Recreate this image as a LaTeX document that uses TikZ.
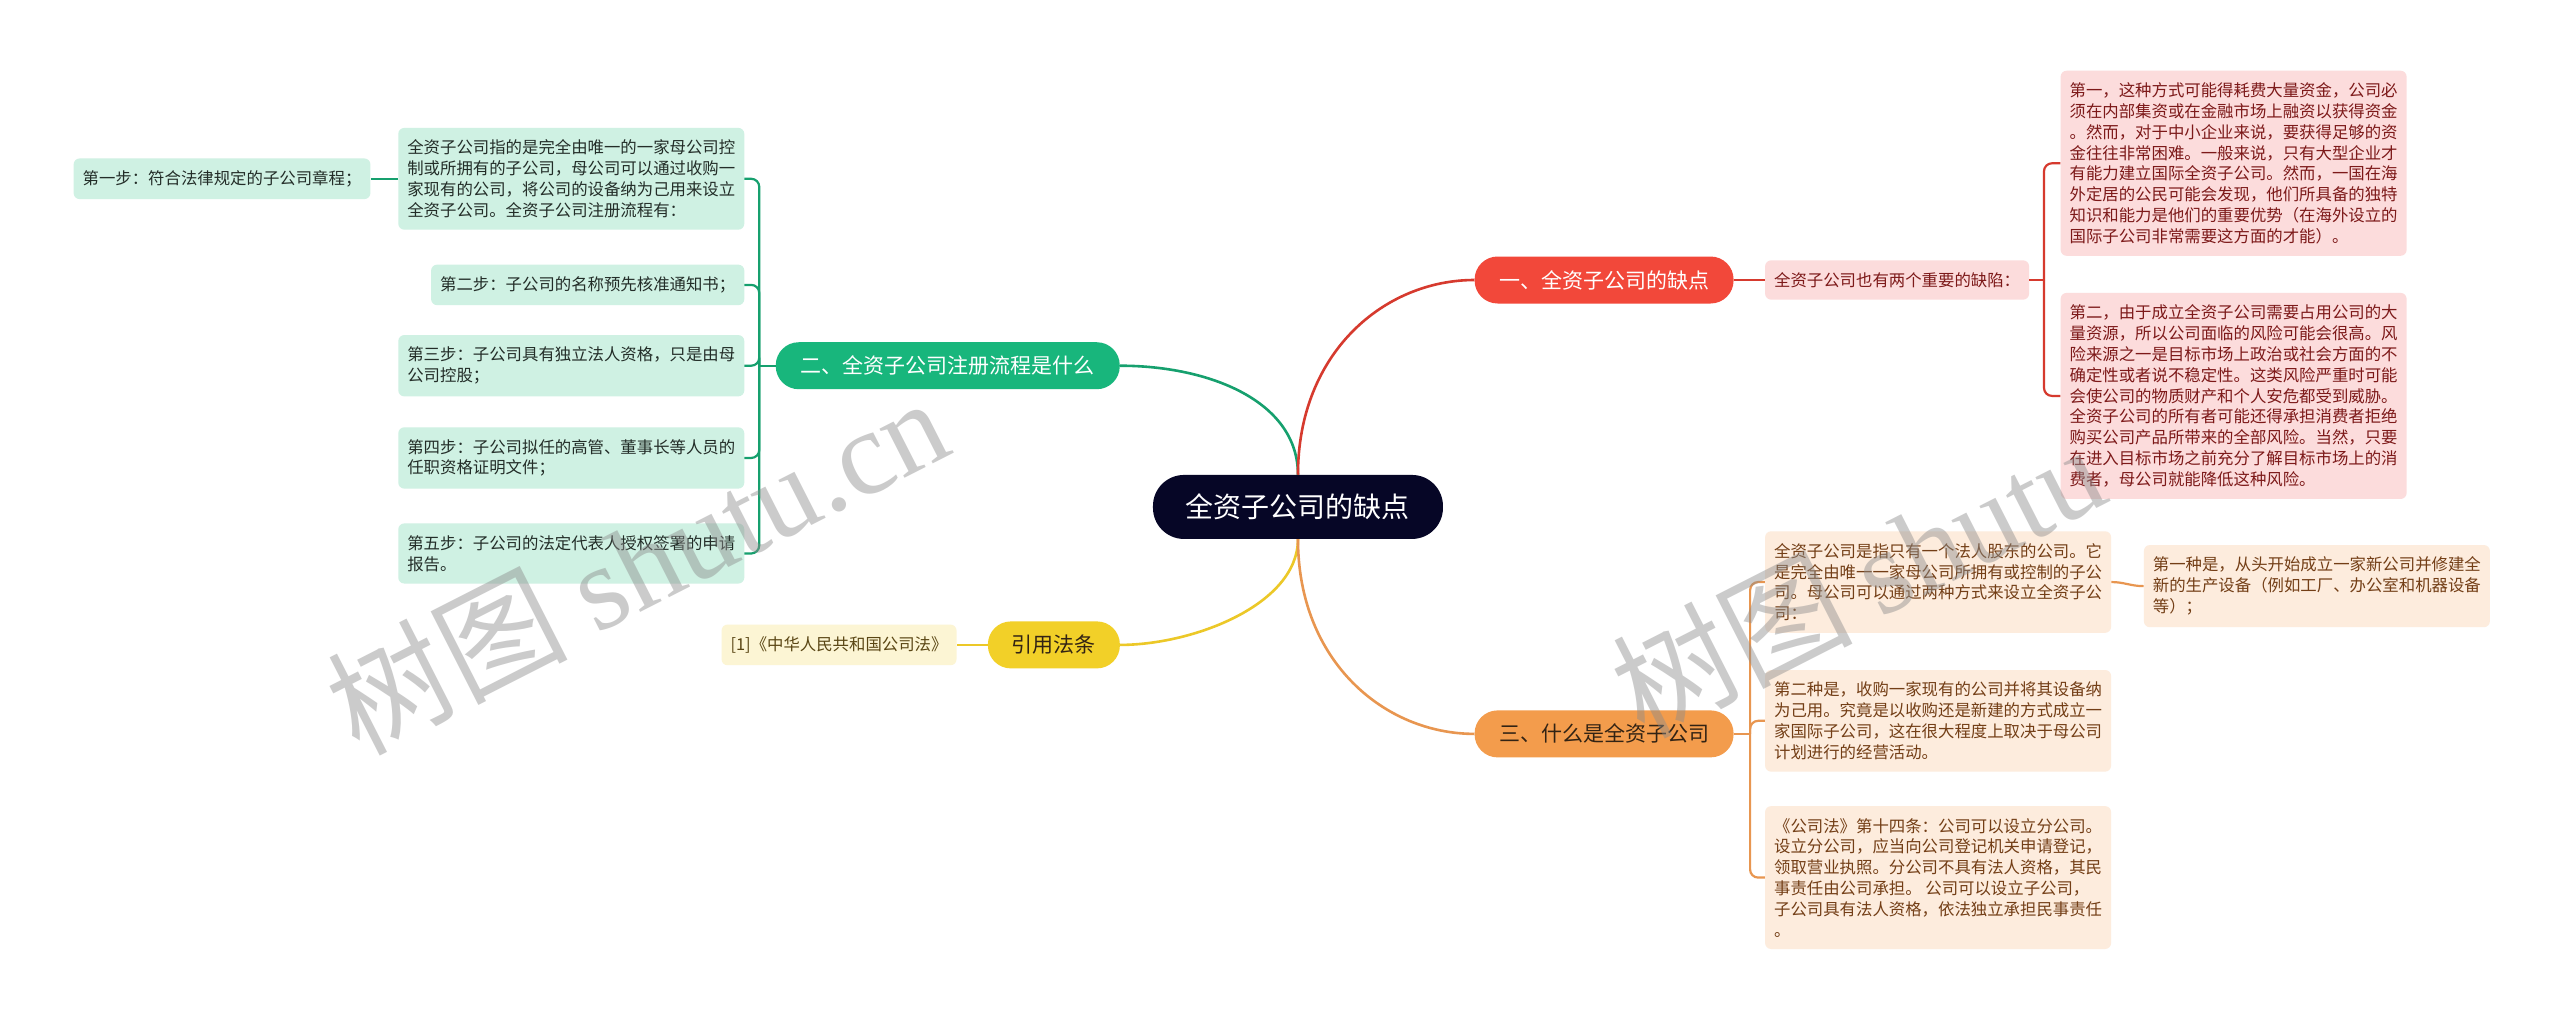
\documentclass[tikz,border=0pt]{standalone}
\usepackage{fontspec}
\setmainfont{Noto Sans CJK SC}
\newfontfamily\wmlatin{Liberation Serif}
\definecolor{cnavy}{RGB}{6,6,38}
\definecolor{cred}{RGB}{242,72,58}
\definecolor{credline}{RGB}{214,58,46}
\definecolor{credleaf}{RGB}{252,220,220}
\definecolor{credtext}{RGB}{125,25,25}
\definecolor{cgreen}{RGB}{24,182,124}
\definecolor{cgreenline}{RGB}{22,160,110}
\definecolor{cgreenleaf}{RGB}{207,241,227}
\definecolor{cgreentext}{RGB}{35,45,40}
\definecolor{cyellow}{RGB}{242,208,40}
\definecolor{cyellowline}{RGB}{236,200,40}
\definecolor{cyellowleaf}{RGB}{252,245,212}
\definecolor{cyellowtext}{RGB}{90,70,20}
\definecolor{corange}{RGB}{243,156,76}
\definecolor{corangeline}{RGB}{232,150,80}
\definecolor{corangeleaf}{RGB}{253,236,221}
\definecolor{corangetext}{RGB}{115,62,22}
\definecolor{cbranchtext}{RGB}{50,35,20}
\tikzset{
  leafbox/.style={rounded corners=6pt, inner xsep=9pt, inner ysep=12pt, align=left,
    font=\fontsize{16.4}{20.8}\selectfont},
  branchbox/.style={rounded corners=23pt, minimum height=47pt, inner xsep=10pt,
    font=\fontsize{21}{25}\selectfont},
  centerbox/.style={rounded corners=31pt, minimum height=64pt, minimum width=290pt,
    fill=cnavy, text=white, font=\fontsize{28}{32}\selectfont},
  mainline/.style={line width=2.6pt},
  subline/.style={line width=2.2pt, rounded corners=8pt},
  wm/.style={text=black!45, opacity=0.45, font=\fontsize{120}{130}\selectfont, inner sep=0pt}
}
\begin{document}
\begin{tikzpicture}[x=1.6327pt,y=-1.6327pt]
\fill[white] (0,0) rectangle (1568,626);
\useasboundingbox (0,0) rectangle (1568,626);

% center
\node[centerbox] (c) at (795,310.5) {全资子公司的缺点};

% branch 1 (red)
\node[branchbox, fill=cred, text=white, minimum width=259pt] (b1) at (982.5,171.5) {一、全资子公司的缺点};
\node[leafbox, fill=credleaf, text=credtext, anchor=west] (b1c) at (1081,171.5) {全资子公司也有两个重要的缺陷：};
\node[leafbox, fill=credleaf, text=credtext, anchor=west] (r1) at (1262,100) {第一，这种方式可能得耗费大量资金，公司必\\须在内部集资或在金融市场上融资以获得资金\\。然而，对于中小企业来说，要获得足够的资\\金往往非常困难。一般来说，只有大型企业才\\有能力建立国际全资子公司。然而，一国在海\\外定居的公民可能会发现，他们所具备的独特\\知识和能力是他们的重要优势（在海外设立的\\国际子公司非常需要这方面的才能）。};
\node[leafbox, fill=credleaf, text=credtext, anchor=west] (r2) at (1262,242.5) {第二，由于成立全资子公司需要占用公司的大\\量资源，所以公司面临的风险可能会很高。风\\险来源之一是目标市场上政治或社会方面的不\\确定性或者说不稳定性。这类风险严重时可能\\会使公司的物质财产和个人安危都受到威胁。\\全资子公司的所有者可能还得承担消费者拒绝\\购买公司产品所带来的全部风险。当然，只要\\在进入目标市场之前充分了解目标市场上的消\\费者，母公司就能降低这种风险。};

% branch 2 (green)
\node[branchbox, fill=cgreen, text=white, minimum width=344pt] (b2) at (580.5,224) {二、全资子公司注册流程是什么};
\node[leafbox, fill=cgreenleaf, text=cgreentext, anchor=east] (g1) at (456,109.5) {全资子公司指的是完全由唯一的一家母公司控\\制或所拥有的子公司，母公司可以通过收购一\\家现有的公司，将公司的设备纳为己用来设立\\全资子公司。全资子公司注册流程有：};
\node[leafbox, fill=cgreenleaf, text=cgreentext, anchor=east] (g0) at (227,109.5) {第一步：符合法律规定的子公司章程；};
\node[leafbox, fill=cgreenleaf, text=cgreentext, anchor=east] (g2) at (456,174.5) {第二步：子公司的名称预先核准通知书；};
\node[leafbox, fill=cgreenleaf, text=cgreentext, anchor=east] (g3) at (456,224) {第三步：子公司具有独立法人资格，只是由母\\公司控股；};
\node[leafbox, fill=cgreenleaf, text=cgreentext, anchor=east] (g4) at (456,280.5) {第四步：子公司拟任的高管、董事长等人员的\\任职资格证明文件；};
\node[leafbox, fill=cgreenleaf, text=cgreentext, anchor=east] (g5) at (456,339) {第五步：子公司的法定代表人授权签署的申请\\报告。};

% branch 3 (yellow)
\node[branchbox, fill=cyellow, text=cbranchtext, minimum width=132pt] (b3) at (645.5,395) {引用法条};
\node[leafbox, fill=cyellowleaf, text=cyellowtext, anchor=east] (y1) at (586,395) {[1]《中华人民共和国公司法》};

% branch 4 (orange)
\node[branchbox, fill=corange, text=cbranchtext, minimum width=259pt] (b4) at (982.5,449.5) {三、什么是全资子公司};
\node[leafbox, fill=corangeleaf, text=corangetext, anchor=west] (o1) at (1081,356.5) {全资子公司是指只有一个法人股东的公司。它\\是完全由唯一一家母公司所拥有或控制的子公\\司。母公司可以通过两种方式来设立全资子公\\司：};
\node[leafbox, fill=corangeleaf, text=corangetext, anchor=west] (o1a) at (1313,359) {第一种是，从头开始成立一家新公司并修建全\\新的生产设备（例如工厂、办公室和机器设备\\等）；};
\node[leafbox, fill=corangeleaf, text=corangetext, anchor=west] (o2) at (1081,441.5) {第二种是，收购一家现有的公司并将其设备纳\\为己用。究竟是以收购还是新建的方式成立一\\家国际子公司，这在很大程度上取决于母公司\\计划进行的经营活动。};
\node[leafbox, fill=corangeleaf, text=corangetext, anchor=west] (o3) at (1081,537.5) {《公司法》第十四条：公司可以设立分公司。\\设立分公司，应当向公司登记机关申请登记，\\领取营业执照。分公司不具有法人资格，其民\\事责任由公司承担。 公司可以设立子公司，\\子公司具有法人资格，依法独立承担民事责任\\。};

% main connectors
\draw[mainline, cgreenline] (c.north) .. controls +(0,-45) and +(55,0) .. (b2.east);
\draw[mainline, credline] (c.north) .. controls +(0,-75) and +(-55,0) .. (b1.west);
\draw[mainline, cyellowline] (c.south) .. controls +(0,40) and +(45,0) .. (b3.east);
\draw[mainline, corangeline] (c.south) .. controls +(0,75) and +(-55,0) .. (b4.west);

% red sub connectors
\path (b1c.east) ++(9,0) coordinate (rb);
\draw[subline, credline] (b1.east) -- (b1c.west);
\draw[subline, credline] (b1c.east) -- (rb);
\draw[subline, credline] (rb) |- (r1.west);
\draw[subline, credline] (rb) |- (r2.west);

% green sub connectors
\path (b2.west) ++(-10,0) coordinate (gb);
\draw[subline, cgreenline] (b2.west) -- (gb);
\foreach \n in {g1,g2,g3,g4,g5} \draw[subline, cgreenline] (gb) |- (\n.east);
\draw[subline, cgreenline] (g1.west) -- (g0.east);

% yellow
\draw[subline, cyellowline] (b3.west) -- (y1.east);

% orange
\path (b4.east) ++(10,0) coordinate (ob);
\draw[subline, corangeline] (b4.east) -- (ob);
\foreach \n in {o1,o2,o3} \draw[subline, corangeline] (ob) |- (\n.west);
\draw[subline, corangeline] (o1.east) .. controls +(8,0) and +(-8,0) .. (o1a.west);

% watermarks
\node[wm, rotate=27] (wm1) at (390,345) {树图 {\wmlatin shutu.cn}};
\node[wm, rotate=27] (wm2) at (1137.5,355) {树图 {\wmlatin shutu}};
\end{tikzpicture}
\end{document}
